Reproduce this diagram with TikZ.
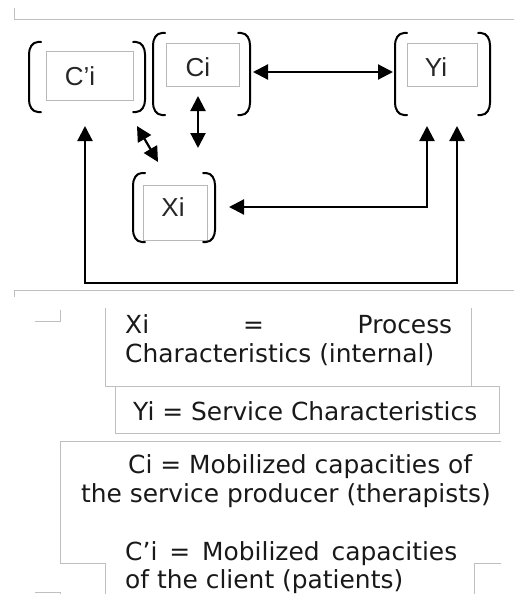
\documentclass[tikz,border=0pt]{standalone}
\usepackage{fontspec}
\setmainfont{DejaVu Sans}
\newfontfamily\labfont{Liberation Sans}
\usetikzlibrary{arrows.meta}
\newcommand\brkpair[4]{%
  \draw[brk] (#1+12,#3) -- (#1+9,#3) to[out=180,in=90] (#1,#3+12) -- (#1,#4-12) to[out=-90,in=180] (#1+9,#4) -- (#1+12,#4);
  \draw[brk] (#2-12,#3) -- (#2-9,#3) to[out=0,in=90] (#2,#3+12) -- (#2,#4-12) to[out=-90,in=0] (#2-9,#4) -- (#2-12,#4);
}
\begin{document}
\begin{tikzpicture}[x=1pt,y=-1pt,
  frame/.style={draw=black!25,line width=1pt},
  inbox/.style={draw=black!28,line width=0.8pt,inner sep=0pt},
  brk/.style={line width=2pt,line cap=round},
  conn/.style={line width=2.2pt,{Triangle[length=15pt,width=15pt]}-{Triangle[length=15pt,width=15pt]}},
  lab/.style={font=\labfont\fontsize{26}{26}\selectfont,text=black!85,inner sep=0pt},
  leg/.style={font=\fontsize{24.9}{29}\selectfont,text=black!90,anchor=base west,inner sep=0pt}
]
\useasboundingbox (0,0) rectangle (514,594);

% gray frame lines
\draw[frame] (14,8) -- (14,20) -- (514,20);
\draw[frame] (514,290) -- (14,290) -- (14,297);
\draw[frame] (35,321) -- (60,321) -- (60,310);
\draw[frame] (105,308) -- (105,386) -- (115,386);
\draw[frame] (471,308) -- (471,386);
\draw[frame] (115,386) rectangle (499,433);
\draw[frame] (501,441) -- (60,441) -- (60,563) -- (105,563) -- (105,594);
\draw[frame] (474,594) -- (474,563) -- (501,563);
\draw[frame] (35,592) -- (60,592) -- (60,594);

% boxes
\node[inbox,minimum width=87pt,minimum height=49pt] (cpibox) at (89.5,75.5) {};
\node[inbox,minimum width=73pt,minimum height=43pt] (cibox) at (202.5,64.5) {};
\node[inbox,minimum width=70pt,minimum height=43pt] (yibox) at (442,64.5) {};
\node[inbox,minimum width=64pt,minimum height=55pt] (xibox) at (175,212.5) {};
\node[lab] (cpi) at (80,76) {C’i};
\node[lab] (ci) at (198,67) {Ci};
\node[lab] (yi) at (436,67) {Yi};
\node[lab] (xi) at (173,207) {Xi};

% brackets
\brkpair{29}{145}{42}{112}
\brkpair{153}{250}{33}{115}
\brkpair{395}{490}{33}{115}
\brkpair{133}{215}{173}{242}

% connector ends
\coordinate (ciR) at (253,72);
\coordinate (yiL) at (393,72);
\coordinate (ciB) at (198,96);
\coordinate (xiT) at (198,148);
\coordinate (cpiD) at (137,126);
\coordinate (xiD) at (158,162);
\coordinate (yiB1) at (427,126);
\coordinate (xiR) at (229,207);
\coordinate (cpiB) at (85,126);
\coordinate (yiB2) at (457,126);

\draw[conn] (ciR) -- (yiL);
\draw[conn] (ciB) -- (xiT);
\draw[conn] (cpiD) -- (xiD);
\draw[conn] (yiB1) |- (xiR);
\draw[conn] (cpiB) -- (85,283) -| (yiB2);

% legend
\node[leg] (l1) at (125,333) {\makebox[327pt][s]{Xi = Process}};
\node[leg] (l2) at (125,362) {Characteristics (internal)};
\node[leg] (l3) at (133,420) {Yi = Service Characteristics};
\node[leg] (l4) at (128,473) {Ci = Mobilized capacities of};
\node[leg] (l5) at (81,502) {the service producer (therapists)};
\node[leg] (l6) at (125,560) {\makebox[332pt][s]{C’i = Mobilized capacities}};
\node[leg] (l7) at (125,588) {of the client (patients)};
\end{tikzpicture}
\end{document}
